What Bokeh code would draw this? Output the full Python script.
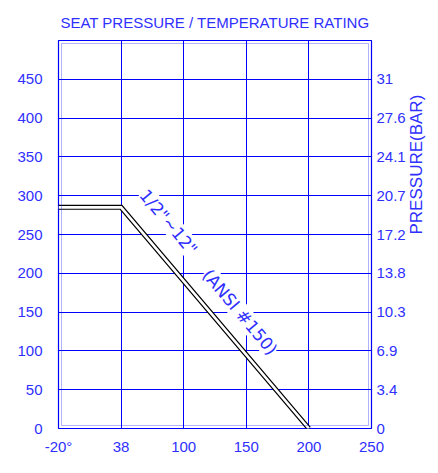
import math
import numpy as np
from bokeh.plotting import figure
from bokeh.models import Range1d, FixedTicker, LinearAxis, Label, BoxAnnotation, Node
from bokeh.embed import file_html
from bokeh.resources import INLINE

# ---- data ----
temp_ticks = [-20, 38, 100, 150, 200, 250]
temp_tick_labels = ["-20°", "38", "100", "150", "200", "250"]
psi_ticks = [0, 50, 100, 150, 200, 250, 300, 350, 400, 450]
psi_tick_labels = ["0", "50", "100", "150", "200", "250", "300", "350", "400", "450"]
bar_tick_labels = ["0", "3.4", "6.9", "10.3", "13.8", "17.2", "20.7", "24.1", "27.6", "31"]
rating_temp = [-20, 38, 200]
rating_psi = [285, 285, 0]
note_text = ['1/2"~12"', '(ANSI #150)']
note_temp = [85, 145]
note_psi = [266, 150]
title_text = "SEAT PRESSURE / TEMPERATURE RATING"
right_label = "PRESSURE(BAR)"

BLUE = "#0000ff"
TXT = "#2f2fff"
FONT = "Liberation Sans"

# temperature axis is evenly spaced per tick (piecewise linear)
pos = list(range(len(temp_ticks)))
def tpos(t):
    return np.interp(t, temp_ticks, pos)

p = figure(width=438, height=473, output_backend="svg", toolbar_location=None,
           x_range=Range1d(0, len(temp_ticks) - 1), y_range=Range1d(0, 500),
           min_border_left=58, min_border_right=66, min_border_top=40, min_border_bottom=45)

p.title.text = title_text
p.title.align = "center"
p.title.text_color = TXT
p.title.text_font = FONT
p.title.text_font_size = "15px"
p.title.text_font_style = "normal"
p.title.standoff = 19

p.outline_line_color = BLUE
p.outline_line_width = 1.2

# inner line of the double frame
p.add_layout(BoxAnnotation(
    left=Node(target="frame", symbol="left", offset=3),
    right=Node(target="frame", symbol="right", offset=-3),
    top=Node(target="frame", symbol="top", offset=3),
    bottom=Node(target="frame", symbol="bottom", offset=-3),
    fill_color=None, fill_alpha=0, line_color=BLUE, line_width=1))

# axes
xa = p.xaxis[0]
xa.ticker = FixedTicker(ticks=pos)
xa.major_label_overrides = {i: l for i, l in zip(pos, temp_tick_labels)}
ya = p.yaxis[0]
ya.ticker = FixedTicker(ticks=psi_ticks)
ya.major_label_overrides = {v: l for v, l in zip(psi_ticks, psi_tick_labels)}
ra = LinearAxis(ticker=FixedTicker(ticks=psi_ticks))
ra.major_label_overrides = {v: l for v, l in zip(psi_ticks, bar_tick_labels)}
p.add_layout(ra, "right")

for ax, standoff in ((xa, 9), (ya, 16), (ra, 5)):
    ax.axis_line_color = None
    ax.major_tick_line_color = None
    ax.minor_tick_line_color = None
    ax.major_tick_out = 0
    ax.major_tick_in = 0
    ax.minor_tick_out = 0
    ax.major_label_text_color = TXT
    ax.major_label_text_font = FONT
    ax.major_label_text_font_size = "15px"
    ax.major_label_standoff = standoff

ra.axis_label = right_label
ra.axis_label_text_font = FONT
ra.axis_label_text_font_size = "17px"
ra.axis_label_text_font_style = "normal"
ra.axis_label_text_color = TXT
ra.axis_label_standoff = 8
ra.axis_label_orientation = math.pi / 2

p.xgrid.ticker = FixedTicker(ticks=pos)
p.ygrid.ticker = FixedTicker(ticks=psi_ticks)
p.xgrid.grid_line_color = BLUE
p.ygrid.grid_line_color = BLUE
p.xgrid.grid_line_width = 1
p.ygrid.grid_line_width = 1

# rating curve drawn as double line
xs = tpos(rating_temp)
p.line(xs, rating_psi, line_color="black", line_width=5, line_join="miter")
p.line(xs, rating_psi, line_color="white", line_width=2.6, line_join="miter")

# notes along the curve
for t, tx, ty in zip(note_text, note_temp, note_psi):
    p.add_layout(Label(x=float(tpos(tx)), y=ty, text=t, angle=-50, angle_units="deg",
                       text_align="center", text_baseline="middle",
                       text_font="DejaVu Sans", text_font_size="17px", text_color=TXT,
                       background_fill_color="white"))

open("out.html", "w").write(file_html(p, INLINE))
